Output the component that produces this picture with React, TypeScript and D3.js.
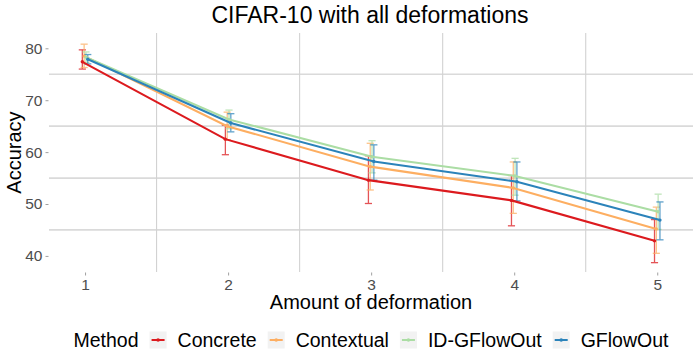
import React, { useRef, useEffect } from "react";
import * as d3 from "d3";

// values
const deformations = [1, 2, 3, 4, 5];
const methods = ["Concrete", "Contextual", "ID-GFlowOut", "GFlowOut"];
const colors = ["#DC1A1E", "#FDAE61", "#ABDDA4", "#2B83BA"];

const concreteMean = [77.4, 62.5, 54.6, 50.7, 42.9];
const concreteLow = [76.0, 59.5, 50.1, 45.8, 38.7];
const concreteHigh = [79.7, 65.2, 59.3, 55.5, 47.0];

const contextualMean = [78.5, 65.0, 57.2, 53.1, 45.2];
const contextualLow = [76.3, 62.4, 52.7, 48.2, 40.5];
const contextualHigh = [80.8, 67.7, 61.7, 58.1, 49.4];

const idGflowMean = [78.3, 66.3, 59.1, 55.4, 48.5];
const idGflowLow = [77.3, 64.5, 56.0, 51.7, 45.1];
const idGflowHigh = [79.3, 68.1, 62.2, 58.8, 51.9];

const gflowMean = [77.9, 65.6, 58.2, 54.3, 46.9];
const gflowLow = [77.0, 63.9, 54.6, 50.6, 43.1];
const gflowHigh = [78.8, 67.4, 61.4, 58.1, 50.4];

const yTicks = [40, 50, 60, 70, 80];
const yMinor = [45, 55, 65, 75];
const xMinor = [1.5, 2.5, 3.5, 4.5];

const FONT = "'Liberation Sans', Arial, sans-serif";

const App = () => {
  const svgRef = useRef<SVGSVGElement>(null);

  useEffect(() => {
    const width = 699;
    const height = 360;
    const panel = { left: 49, right: 693, top: 33, bottom: 272 };

    const root = d3.select(svgRef.current);
    root.selectAll("*").remove();
    const svg = root.attr("width", width).attr("height", height);

    const series = [
      { name: methods[0], mean: concreteMean, lo: concreteLow, hi: concreteHigh },
      { name: methods[1], mean: contextualMean, lo: contextualLow, hi: contextualHigh },
      { name: methods[2], mean: idGflowMean, lo: idGflowLow, hi: idGflowHigh },
      { name: methods[3], mean: gflowMean, lo: gflowLow, hi: gflowHigh },
    ];

    const color = d3.scaleOrdinal<string, string>().domain(methods).range(colors);

    const xScale = d3.scaleLinear().domain([0.748, 5.25]).range([panel.left, panel.right]);
    const yScale = d3.scaleLinear().domain([36.9, 82.95]).range([panel.bottom, panel.top]);

    // small dodge between the groups
    const dodge = d3.scalePoint<string>().domain(methods).range([-0.019, 0.019]);

    // grid (minor lines only)
    svg
      .append("g")
      .selectAll("line")
      .data(yMinor)
      .enter()
      .append("line")
      .attr("x1", panel.left)
      .attr("x2", panel.right)
      .attr("y1", (d) => yScale(d))
      .attr("y2", (d) => yScale(d))
      .attr("stroke", "#dadada")
      .attr("stroke-width", 1.7);

    svg
      .append("g")
      .selectAll("line")
      .data(xMinor)
      .enter()
      .append("line")
      .attr("x1", (d) => xScale(d))
      .attr("x2", (d) => xScale(d))
      .attr("y1", panel.top)
      .attr("y2", panel.bottom)
      .attr("stroke", "#d2d2d2")
      .attr("stroke-width", 1.1);

    // axes
    const yAxis = d3
      .axisLeft(yScale)
      .tickValues(yTicks)
      .tickSize(3)
      .tickPadding(3);
    const gy = svg.append("g").attr("transform", `translate(${panel.left - 0.5},0)`).call(yAxis);
    gy.select(".domain").remove();
    gy.selectAll("line").attr("stroke", "#a0a0a0");
    gy.selectAll("text")
      .attr("fill", "#4d4d4d")
      .style("font-family", FONT)
      .style("font-size", "15.5px");

    const xAxis = d3
      .axisBottom(xScale)
      .tickValues(deformations)
      .tickFormat(d3.format("d"))
      .tickSize(3)
      .tickPadding(3);
    const gx = svg.append("g").attr("transform", `translate(0,${panel.bottom + 0.5})`).call(xAxis);
    gx.select(".domain").remove();
    gx.selectAll("line").attr("stroke", "#a0a0a0");
    gx.selectAll("text")
      .attr("fill", "#4d4d4d")
      .style("font-family", FONT)
      .style("font-size", "15.5px");

    // error bars
    const capHalf = 0.025;
    series.forEach((s) => {
      const g = svg.append("g").attr("stroke", color(s.name)).attr("stroke-width", 1.3).attr("opacity", 0.75);
      deformations.forEach((x, i) => {
        const cx = xScale(x + (dodge(s.name) as number));
        const x0 = xScale(x + (dodge(s.name) as number) - capHalf);
        const x1 = xScale(x + (dodge(s.name) as number) + capHalf);
        g.append("line").attr("x1", cx).attr("x2", cx).attr("y1", yScale(s.lo[i])).attr("y2", yScale(s.hi[i]));
        g.append("line").attr("x1", x0).attr("x2", x1).attr("y1", yScale(s.lo[i])).attr("y2", yScale(s.lo[i]));
        g.append("line").attr("x1", x0).attr("x2", x1).attr("y1", yScale(s.hi[i])).attr("y2", yScale(s.hi[i]));
      });
    });

    // lines
    const line = d3
      .line<[number, number]>()
      .x((d) => xScale(d[0]))
      .y((d) => yScale(d[1]));

    series.forEach((s) => {
      const pts: [number, number][] = deformations.map((x, i) => [x + (dodge(s.name) as number), s.mean[i]]);
      svg
        .append("path")
        .attr("d", line(pts))
        .attr("fill", "none")
        .attr("stroke", color(s.name))
        .attr("stroke-width", 2.1);
      svg
        .append("g")
        .selectAll("circle")
        .data(pts)
        .enter()
        .append("circle")
        .attr("cx", (d) => xScale(d[0]))
        .attr("cy", (d) => yScale(d[1]))
        .attr("r", 1.7)
        .attr("fill", color(s.name));
    });

    // titles
    svg
      .append("text")
      .attr("x", 370)
      .attr("y", 23.3)
      .attr("text-anchor", "middle")
      .style("font-family", FONT)
      .style("font-size", "23px")
      .attr("fill", "#000")
      .text("CIFAR-10 with all deformations");

    svg
      .append("text")
      .attr("x", (panel.left + panel.right) / 2)
      .attr("y", 309.3)
      .attr("text-anchor", "middle")
      .style("font-family", FONT)
      .style("font-size", "20px")
      .attr("fill", "#000")
      .text("Amount of deformation");

    svg
      .append("text")
      .attr("transform", `translate(21,${(panel.top + panel.bottom) / 2}) rotate(-90)`)
      .attr("text-anchor", "middle")
      .style("font-family", FONT)
      .style("font-size", "20px")
      .attr("fill", "#000")
      .text("Accuracy");

    // legend, laid out from measured text widths and centred on the panel
    const legend = svg.append("g");
    const baseline = 347;
    const gap = 11;
    const keySize = 17;
    let cursor = 0;

    const title = legend
      .append("text")
      .attr("x", 0)
      .attr("y", baseline)
      .style("font-family", FONT)
      .style("font-size", "19.5px")
      .attr("fill", "#000")
      .text("Method");
    cursor += (title.node() as SVGTextElement).getComputedTextLength() + gap;

    methods.forEach((m) => {
      const kx = cursor;
      const ky = baseline - 7 - keySize / 2;
      legend.append("rect").attr("x", kx).attr("y", ky).attr("width", keySize).attr("height", keySize).attr("fill", "#f2f2f2");
      legend
        .append("line")
        .attr("x1", kx + 2)
        .attr("x2", kx + keySize - 2)
        .attr("y1", ky + keySize / 2)
        .attr("y2", ky + keySize / 2)
        .attr("stroke", color(m))
        .attr("stroke-width", 2);
      legend
        .append("circle")
        .attr("cx", kx + keySize / 2)
        .attr("cy", ky + keySize / 2)
        .attr("r", 1.8)
        .attr("fill", color(m));
      cursor += keySize + gap;
      const t = legend
        .append("text")
        .attr("x", cursor)
        .attr("y", baseline)
        .style("font-family", FONT)
        .style("font-size", "19.5px")
        .attr("fill", "#000")
        .text(m);
      cursor += (t.node() as SVGTextElement).getComputedTextLength() + gap;
    });
    const total = cursor - gap;
    legend.attr("transform", `translate(${(panel.left + panel.right) / 2 - total / 2},0)`);
  }, []);

  return (
    <svg
      ref={svgRef}
      style={{ position: "absolute", left: 0, top: 0, background: "#fff" }}
    ></svg>
  );
};

export default App;
